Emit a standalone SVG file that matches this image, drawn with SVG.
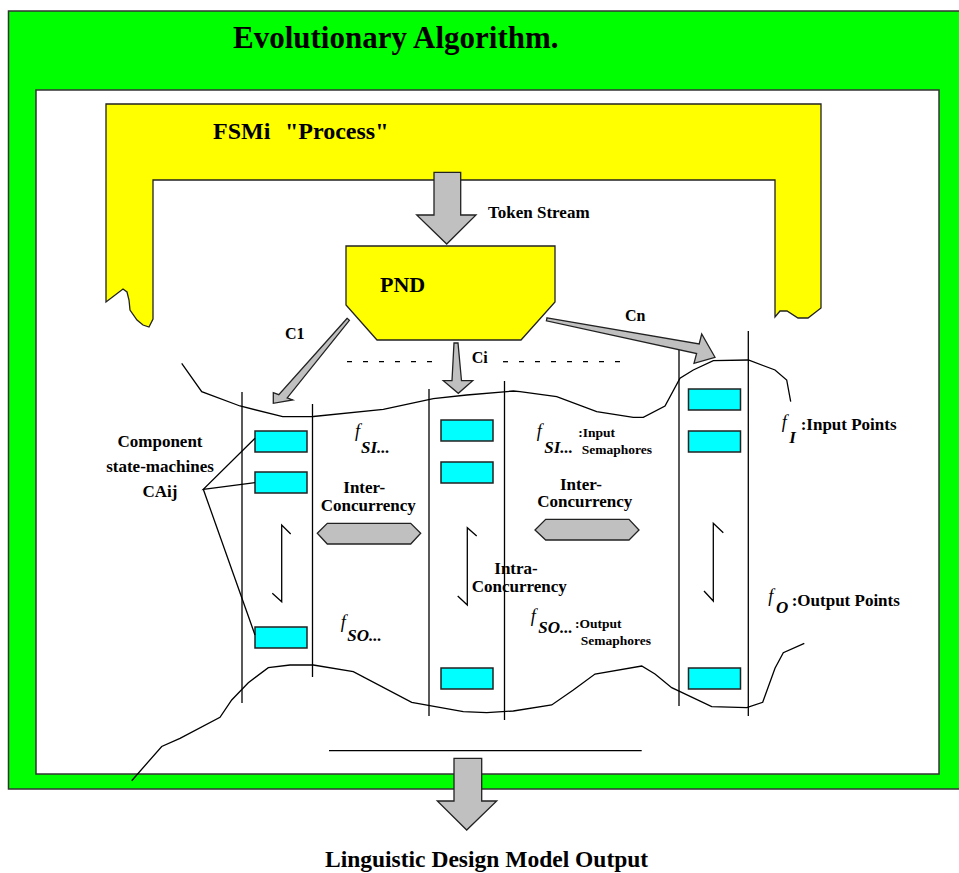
<svg xmlns="http://www.w3.org/2000/svg" width="959" height="873" viewBox="0 0 959 873">
<style>
.t{font-family:"Liberation Serif","Times New Roman",serif;font-weight:bold;fill:#000}
.i{font-family:"Liberation Serif","Times New Roman",serif;font-style:italic;fill:#000}
.ib{font-family:"Liberation Serif","Times New Roman",serif;font-style:italic;font-weight:bold;fill:#000}
.ln{fill:none;stroke:#000;stroke-width:1.3}
.gr{fill:#C0C0C0;stroke:#222;stroke-width:1.3}
.cy{fill:#00FFFF;stroke:#222;stroke-width:1.5}
.ye{fill:#FFFF00;stroke:#222;stroke-width:1.3}
</style>
<rect width="959" height="873" fill="#fff"/>
<g id="evolutionary-algorithm">
<rect x="8.5" y="11" width="970" height="778" fill="#00FF00" stroke="#333" stroke-width="1.5"/>
<rect x="36" y="90" width="903" height="684" fill="#fff" stroke="#333" stroke-width="1.5"/>
<text class="t" x="233" y="48" font-size="31">Evolutionary Algorithm.</text>
</g>
<g id="fsmi-process">
<path class="ye" d="M106,104 L821,104 L821,308 L808,318 L798,318 L787,311 L780,311 L775,317 L775,180 L153,180 L153,319 L149,327 L143,325 L137,320 L130,310 L129,300 L127,292 L123,289 L106,302 Z"/>
<text class="t" x="213" y="139" font-size="24">FSMi</text>
<text class="t" x="285" y="139" font-size="24">"Process"</text>
</g>
<g id="pnd">
<path class="ye" d="M346,246 L555,246 L555,302 L521,340 L377,340 L346,305 Z"/>
<text class="t" x="380" y="292" font-size="22">PND</text>
</g>
<g id="lane-1">
<line class="ln" x1="242" y1="392" x2="242" y2="703"/>
<line class="ln" x1="312.5" y1="404" x2="312.5" y2="677"/>
<rect class="cy" x="255" y="431" width="52" height="21"/>
<rect class="cy" x="255" y="472" width="52" height="21"/>
<rect class="cy" x="255" y="627" width="52" height="21"/>
<polyline class="ln" points="290.7,534 281.7,525 281.7,601.7 272.3,593.3"/>
</g>
<g id="lane-2">
<line class="ln" x1="429" y1="389" x2="429" y2="716"/>
<line class="ln" x1="504.5" y1="381" x2="504.5" y2="720"/>
<rect class="cy" x="441" y="420" width="52" height="21"/>
<rect class="cy" x="441" y="462" width="52" height="21"/>
<rect class="cy" x="441" y="668" width="52" height="21"/>
<polyline class="ln" points="476.7,536 467.3,527.7 467.3,605 457.7,596"/>
</g>
<g id="lane-n">
<line class="ln" x1="679" y1="350" x2="679" y2="706"/>
<line class="ln" x1="748.3" y1="331" x2="748.3" y2="716"/>
<rect class="cy" x="688.5" y="389" width="52" height="21"/>
<rect class="cy" x="688.5" y="431" width="52" height="21"/>
<rect class="cy" x="688.5" y="668" width="52" height="21"/>
<polyline class="ln" points="723.3,532.7 713.3,523.3 713.3,601 704,591"/>
</g>
<g id="boundaries">
<polyline class="ln" points="181.7,363.3 201.7,391.7 240,406 282.7,416.7 313.3,416.5 383.3,409.3 433.3,398.7 466.7,395 513.3,391 520,391.7 556.7,396.7 596.7,411.7 633.3,417.3 643.3,417.3 665,406 680,378.3 693.3,370 713.3,360.7 748.3,360 775,370 786.7,380 790.7,401.7"/>
<polyline class="ln" points="131.7,780.7 161.7,746.5 180,738.3 220,717.3 231.7,700 248.3,682.7 268.3,667.7 290,665 313.3,665 353.3,671.7 411.7,702.3 463.3,711.7 486.7,712.7 513.3,711 551.7,705 573.3,690 595,674 641.7,666 655,674 671.7,687.7 711.7,706.7 746.7,707.7 762.7,702.3 775,668.3 783.3,652.7 804.3,643.3"/>
<line class="ln" x1="329" y1="750.7" x2="641.7" y2="750.7"/>
<line class="ln" x1="347" y1="361.7" x2="432" y2="361.7" stroke-dasharray="5 11"/>
<line class="ln" x1="503" y1="361.7" x2="628" y2="361.7" stroke-dasharray="5 11"/>
</g>
<g id="component-label">
<text class="t" x="160" y="446.7" font-size="17" text-anchor="middle">Component</text>
<text class="t" x="160" y="472.3" font-size="17" text-anchor="middle">state-machines</text>
<text class="t" x="160" y="496.7" font-size="17" text-anchor="middle">CAij</text>
<polyline class="ln" stroke-width="1" points="255,438.3 203.3,489.3 255,482.7"/>
<line class="ln" stroke-width="1" x1="203.3" y1="489.3" x2="255" y2="635"/>
</g>
<g id="inter-concurrency-1">
<path class="gr" d="M317.3,533.3 L327.3,523.3 L410.7,523.3 L420.7,533.3 L410.7,544 L327.3,544 Z"/>
<text class="t" x="343.3" y="492.7" font-size="17">Inter-</text>
<text class="t" x="320.7" y="510.7" font-size="17">Concurrency</text>
</g>
<g id="inter-concurrency-2">
<path class="gr" d="M535,530 L545.7,519.3 L629,519.3 L639,530 L629,540 L545.7,540 Z"/>
<text class="t" x="560" y="490" font-size="17">Inter-</text>
<text class="t" x="537.3" y="507.3" font-size="17">Concurrency</text>
</g>
<g id="intra-concurrency">
<text class="t" x="494.3" y="574" font-size="17">Intra-</text>
<text class="t" x="471.7" y="591.7" font-size="17">Concurrency</text>
</g>
<g id="semaphore-labels">
<text class="i" x="355" y="437.3" font-size="18">f</text>
<text class="ib" x="361" y="453.3" font-size="17">SI...</text>
<text class="i" x="340.7" y="628.3" font-size="18">f</text>
<text class="ib" x="347.3" y="640.7" font-size="17">SO...</text>
<text class="i" x="536.7" y="437.3" font-size="18">f</text>
<text class="ib" x="544.3" y="453.3" font-size="17">SI...</text>
<text class="t" x="578.3" y="436.7" font-size="13.5">:Input</text>
<text class="t" x="581.7" y="454.3" font-size="13.5">Semaphores</text>
<text class="i" x="530.7" y="621.7" font-size="18">f</text>
<text class="ib" x="538.3" y="632.7" font-size="17">SO...</text>
<text class="t" x="575" y="628.3" font-size="13.5">:Output</text>
<text class="t" x="580.7" y="645" font-size="13.5">Semaphores</text>
</g>
<g id="point-labels">
<text class="i" x="781.7" y="428.3" font-size="18">f</text>
<text class="ib" x="789.3" y="442.7" font-size="17">I</text>
<text class="t" x="800.7" y="430" font-size="17">:Input Points</text>
<text class="i" x="768.3" y="601.7" font-size="18">f</text>
<text class="ib" x="776" y="613.3" font-size="17">O</text>
<text class="t" x="791.7" y="606" font-size="17">:Output Points</text>
</g>
<g id="connectors">
<path class="gr" d="M434,172.3 L460.7,172.3 L460.7,215 L476,215 L446.7,244 L416.7,215 L434,215 Z"/>
<path class="gr" stroke-width="1" d="M347.2,318.3 L278.8,394.7 L273.3,392.7 L273.3,403.3 L292.7,400 L287.2,397.9 L349.4,320.3 Z"/>
<path class="gr" stroke-width="1" d="M454,343 L458,343 L461.5,380.7 L472.7,380.7 L458.3,393.3 L443.3,380.7 L452,380.7 Z"/>
<path class="gr" stroke-width="1" d="M547,317.8 L699.2,343.9 L701.7,334 L715,357.3 L694,363.3 L696.6,353.5 L546.4,320.8 Z"/>
<path class="gr" d="M454,758.3 L481.7,758.3 L481.7,801 L496.7,801 L466.7,830 L437.3,801 L454,801 Z"/>
</g>
<g id="connector-labels">
<text class="t" x="488" y="218" font-size="17">Token Stream</text>
<text class="t" x="285" y="339.3" font-size="16">C1</text>
<text class="t" x="471.7" y="362.7" font-size="16">Ci</text>
<text class="t" x="625" y="320.7" font-size="16">Cn</text>
<text class="t" x="325" y="866.7" font-size="23.5">Linguistic Design Model Output</text>
</g>
</svg>
